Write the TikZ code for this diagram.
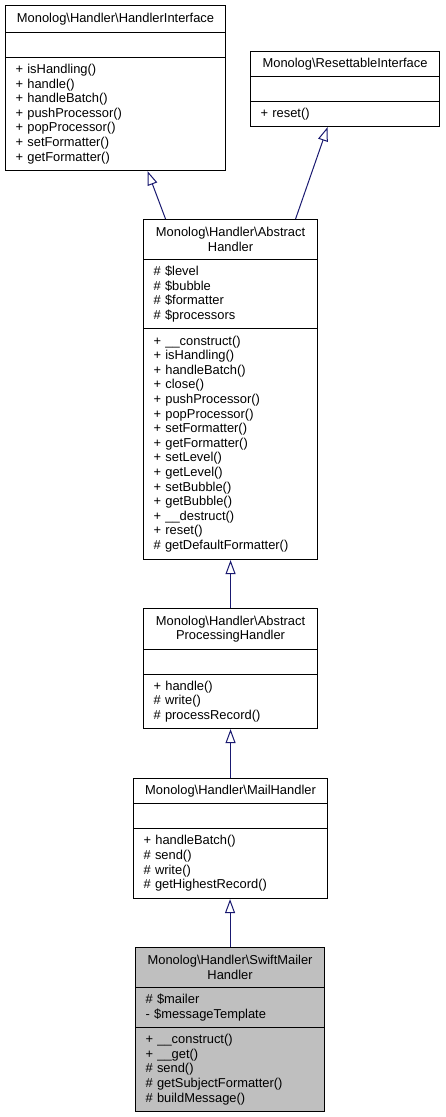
\documentclass[tikz,border=0pt]{standalone}
\usepackage{fontspec}
\setmainfont{Liberation Sans}
\usetikzlibrary{arrows.meta,calc}
\definecolor{edgeblue}{HTML}{191970}
\definecolor{cgray}{HTML}{BFBFBF}
\newcommand{\bs}{\textbackslash}
\tikzset{
  comp/.style={draw=black, line width=1.1pt, anchor=north west, inner xsep=10pt, inner ysep=0pt,
    font=\fontsize{12.9}{14.6}\selectfont, fill=white},
  ttl/.style={comp, align=center},
  mem/.style={comp, align=left},
  grayed/.style={fill=cgray},
  inh/.style={draw=edgeblue, line width=1pt, -{Triangle[open, length=14pt, width=10pt, line width=1pt]}}
}
\begin{document}
\begin{tikzpicture}[x=1pt,y=-1pt]
\useasboundingbox (0,0) rectangle (445,1117);
% HandlerInterface
\node[ttl, text width=200pt, minimum width=220pt, minimum height=27pt] (hi-t) at (5,5) {Monolog\bs Handler\bs HandlerInterface};
\node[mem, text width=200pt, minimum width=220pt, minimum height=25pt] (hi-a) at (5,32) {};
\node[mem, text width=200pt, minimum width=220pt, minimum height=113pt] (hi-o) at (5,57) {+ isHandling()\\+ handle()\\+ handleBatch()\\+ pushProcessor()\\+ popProcessor()\\+ setFormatter()\\+ getFormatter()};
% ResettableInterface
\node[ttl, text width=169pt, minimum width=189pt, minimum height=25pt] (ri-t) at (250,51) {Monolog\bs ResettableInterface};
\node[mem, text width=169pt, minimum width=189pt, minimum height=25pt] (ri-a) at (250,76) {};
\node[mem, text width=169pt, minimum width=189pt, minimum height=25pt] (ri-o) at (250,101) {+ reset()};
% AbstractHandler
\node[ttl, text width=154pt, minimum width=174pt, minimum height=40pt] (ah-t) at (143,219) {Monolog\bs Handler\bs Abstract\\Handler};
\node[mem, text width=154pt, minimum width=174pt, minimum height=69pt] (ah-a) at (143,259) {\# \$level\\\# \$bubble\\\# \$formatter\\\# \$processors};
\node[mem, text width=154pt, minimum width=174pt, minimum height=231pt] (ah-o) at (143,328) {+ \_\_construct()\\+ isHandling()\\+ handleBatch()\\+ close()\\+ pushProcessor()\\+ popProcessor()\\+ setFormatter()\\+ getFormatter()\\+ setLevel()\\+ getLevel()\\+ setBubble()\\+ getBubble()\\+ \_\_destruct()\\+ reset()\\\# getDefaultFormatter()};
% AbstractProcessingHandler
\node[ttl, text width=154pt, minimum width=174pt, minimum height=41pt] (aph-t) at (143,608) {Monolog\bs Handler\bs Abstract\\ProcessingHandler};
\node[mem, text width=154pt, minimum width=174pt, minimum height=25pt] (aph-a) at (143,649) {};
\node[mem, text width=154pt, minimum width=174pt, minimum height=54pt] (aph-o) at (143,674) {+ handle()\\\# write()\\\# processRecord()};
% MailHandler
\node[ttl, text width=174pt, minimum width=194pt, minimum height=25pt] (mh-t) at (133,778) {Monolog\bs Handler\bs MailHandler};
\node[mem, text width=174pt, minimum width=194pt, minimum height=25pt] (mh-a) at (133,803) {};
\node[mem, text width=174pt, minimum width=194pt, minimum height=70pt] (mh-o) at (133,828) {+ handleBatch()\\\# send()\\\# write()\\\# getHighestRecord()};
% SwiftMailerHandler
\node[ttl, grayed, text width=169pt, minimum width=189pt, minimum height=40pt] (sm-t) at (135,947) {Monolog\bs Handler\bs SwiftMailer\\Handler};
\node[mem, grayed, text width=169pt, minimum width=189pt, minimum height=40pt] (sm-a) at (135,987) {\# \$mailer\\- \$messageTemplate};
\node[mem, grayed, text width=169pt, minimum width=189pt, minimum height=84pt] (sm-o) at (135,1027) {+ \_\_construct()\\+ \_\_get()\\\# send()\\\# getSubjectFormatter()\\\# buildMessage()};
% inheritance
\draw[inh] ($(ah-t.north)+(-65,0)$) -- ($(hi-o.south)+(32,0)$);
\draw[inh] ($(ah-t.north)+(65,0)$) -- ($(ri-o.south)+(-17.5,0)$);
\draw[inh] (aph-t.north) -- (ah-o.south);
\draw[inh] (mh-t.north) -- (aph-o.south);
\draw[inh] (sm-t.north) -- (sm-t.north |- mh-o.south);
\end{tikzpicture}
\end{document}
